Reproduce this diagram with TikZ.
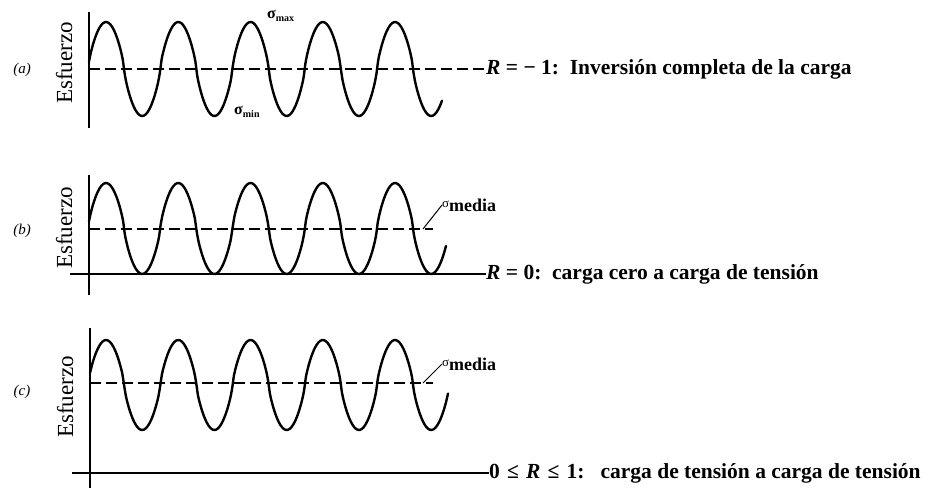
\documentclass[tikz,border=0pt]{standalone}
\usepackage{fontspec}
\setmainfont{Liberation Serif}
\begin{document}
\begin{tikzpicture}[x=1pt,y=-1pt,
  wave/.style={line width=2.4pt, line join=round, line cap=round},
  axisline/.style={line width=2pt},
  meanline/.style={line width=1.4pt, dash pattern=on 11pt off 5pt},
  baseln/.style={line width=1.4pt},
  lead/.style={line width=1pt},
  rlabel/.style={anchor=west, inner sep=0pt, font=\fontsize{21.5}{24}\selectfont\bfseries},
  esf/.style={rotate=90, anchor=base, inner sep=0pt, font=\fontsize{23}{26}\selectfont},
  plabel/.style={font=\fontsize{15}{17}\selectfont\itshape, inner sep=0pt},
  siglbl/.style={anchor=west, inner sep=0pt}
]
\useasboundingbox (0,0) rectangle (937,490);
\pgfmathdeclarefunction{wv}{1}{%
  \pgfmathparse{sin((#1-88)/72.25*360)}%
  \pgfmathparse{sign(\pgfmathresult)*pow(abs(\pgfmathresult),0.75)}%
}

% ---------- (a) ----------
\node[plabel] (pa) at (22,70) {(a)};
\node[esf] (ea) at (72,63) {Esfuerzo};
\coordinate (aT) at (89,12);
\coordinate (aB) at (89,128);
\draw[axisline] (aT) -- (aB);
\node[rlabel] (aR) at (486,69) {\textit{R} = − 1:\ \ Inversión completa de la carga};
\coordinate (aM) at (89,69);
\draw[meanline] (aM) -- (aR.west);
\draw[wave] plot[domain=89:442,samples=200,smooth] (\x,{69-47*wv(\x)});
\node[siglbl] (smax) at (267,16) {{\fontsize{16}{16}\selectfont\bfseries σ}\raisebox{-3pt}{\fontsize{10}{10}\selectfont\bfseries max}};
\node[siglbl] (smin) at (234,112) {{\fontsize{16}{16}\selectfont\bfseries σ}\raisebox{-3pt}{\fontsize{10}{10}\selectfont\bfseries min}};

% ---------- (b) ----------
\node[plabel] (pb) at (22,231) {(b)};
\node[esf] (eb) at (72,228) {Esfuerzo};
\coordinate (bT) at (89,175);
\coordinate (bB) at (89,295);
\draw[axisline] (bT) -- (bB);
\node[rlabel] (bR) at (486,274) {\textit{R} = 0:\ \ carga cero a carga de tensión};
\coordinate (bL) at (70,274);
\draw[baseln] (bL) -- (bR.west);
\coordinate (bM1) at (89,229);
\coordinate (bM2) at (433,229);
\draw[meanline] (bM1) -- (bM2);
\draw[wave] plot[domain=89:446,samples=200,smooth] (\x,{228.5-45.5*wv(\x)});
\node[siglbl] (bmed) at (442,205) {\raisebox{4pt}{\fontsize{13}{13}\selectfont σ}{\fontsize{18}{18}\selectfont\bfseries media}};
\coordinate (bLd) at (423,229);
\draw[lead] (bLd) -- (bmed.west);

% ---------- (c) ----------
\node[plabel] (pc) at (22,392) {(c)};
\node[esf] (ec) at (73,397) {Esfuerzo};
\coordinate (cT) at (90,328);
\coordinate (cB) at (90,488);
\draw[axisline] (cT) -- (cB);
\node[rlabel] (cR) at (489,473) {0\,\,≤\,\,\textit{R}\,\,≤\,\,1:\ \ \ carga de tensión a carga de tensión};
\coordinate (cL) at (72,473);
\draw[baseln] (cL) -- (cR.west);
\coordinate (cM1) at (90,383);
\coordinate (cM2) at (433,383);
\draw[meanline] (cM1) -- (cM2);
\draw[wave] plot[domain=90:448,samples=200,smooth] (\x,{385-45*wv(\x)});
\node[siglbl] (cmed) at (442,364) {\raisebox{4pt}{\fontsize{13}{13}\selectfont σ}{\fontsize{18}{18}\selectfont\bfseries media}};
\coordinate (cLd) at (423,383);
\draw[lead] (cLd) -- (cmed.west);
\end{tikzpicture}
\end{document}
